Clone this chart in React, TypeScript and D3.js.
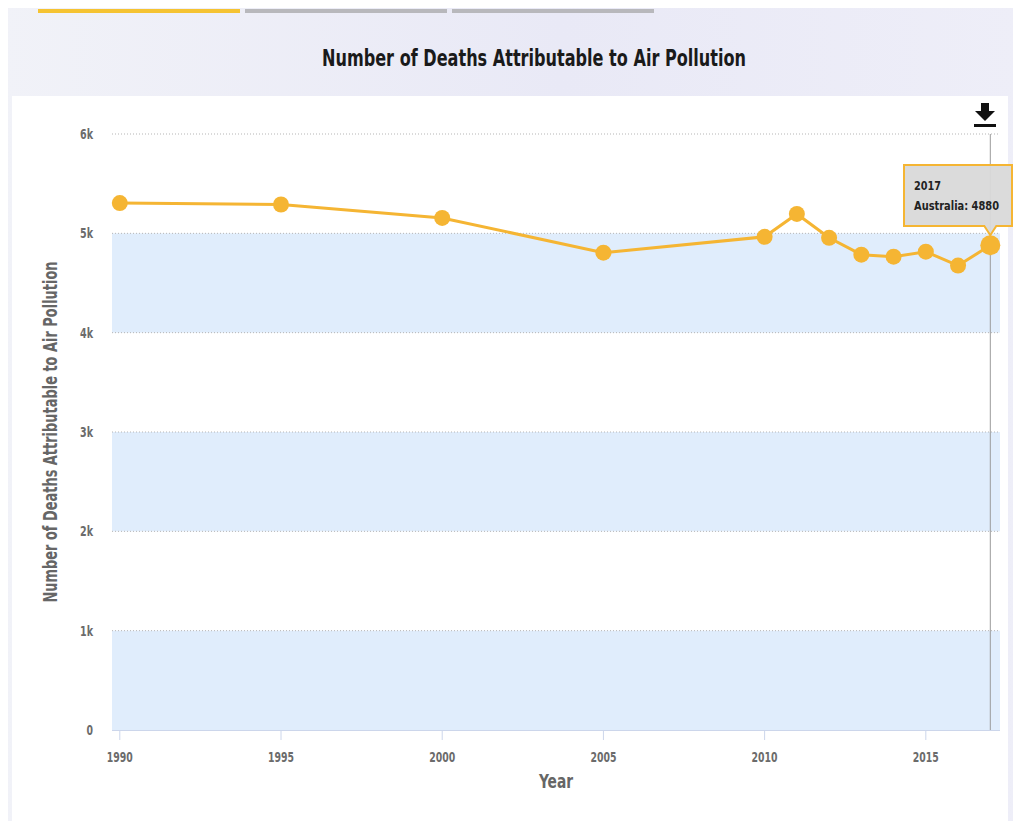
import React, { useEffect, useRef } from "react";
import * as d3 from "d3";

const years = [1990, 1995, 2000, 2005, 2010, 2011, 2012, 2013, 2014, 2015, 2016, 2017];
const deaths = [5305, 5290, 5155, 4805, 4965, 5195, 4955, 4785, 4765, 4815, 4675, 4880];
const yTicks = [0, 1000, 2000, 3000, 4000, 5000, 6000];
const xTicks = [1990, 1995, 2000, 2005, 2010, 2015];
const bands = [[0, 1000], [2000, 3000], [4000, 5000]];
const tabs = ["active", "idle", "idle"];

const FONT = "'DejaVu Sans Condensed', 'DejaVu Sans', sans-serif";
const ORANGE = "#f5b533";

const App: React.FC = () => {
  const svgRef = useRef<SVGSVGElement>(null);

  useEffect(() => {
    if (!svgRef.current) return;
    const width = 1021;
    const height = 829;
    const svg = d3.select(svgRef.current);
    svg.selectAll("*").remove();
    svg.attr("width", width).attr("height", height);

    const label = (sel: d3.Selection<SVGTextElement, unknown, null, undefined>, size: number, fill: string) =>
      sel
        .style("font-family", FONT)
        .style("font-stretch", "condensed")
        .style("font-size", `${size}px`)
        .style("font-weight", "bold")
        .style("fill", fill);

    // background
    const defs = svg.append("defs");
    const grad = defs
      .append("linearGradient")
      .attr("id", "bg")
      .attr("x1", "0")
      .attr("x2", "1")
      .attr("y1", "0")
      .attr("y2", "0");
    grad.append("stop").attr("offset", "0%").attr("stop-color", "#f1f2f8");
    grad.append("stop").attr("offset", "55%").attr("stop-color", "#e9e9f6");
    grad.append("stop").attr("offset", "100%").attr("stop-color", "#eeeef8");
    svg.append("rect").attr("width", width).attr("height", height).attr("fill", "url(#bg)");

    // tabs
    tabs.forEach((t, i) => {
      svg
        .append("rect")
        .attr("x", 38 + i * 207)
        .attr("y", 9)
        .attr("width", 202)
        .attr("height", 4)
        .attr("fill", t === "active" ? "#f5c332" : "#b8b8bc");
    });

    label(
      svg
        .append("text")
        .attr("x", 534)
        .attr("y", 66)
        .attr("text-anchor", "middle")
        .attr("textLength", 424)
        .attr("lengthAdjust", "spacingAndGlyphs"),
      23,
      "#1a1a1a"
    ).text("Number of Deaths Attributable to Air Pollution");

    // white panel
    svg
      .append("rect")
      .attr("x", 12)
      .attr("y", 96)
      .attr("width", 996)
      .attr("height", 730)
      .attr("fill", "#ffffff");

    const x = d3.scaleLinear().domain([1990, 2017]).range([119.8, 990.3]);
    const y = d3.scaleLinear().domain([0, 6000]).range([730, 134]);
    const plotLeft = 112;
    const plotRight = 1000;

    // bands
    bands.forEach(([a, b]) => {
      svg
        .append("rect")
        .attr("x", plotLeft)
        .attr("y", y(b))
        .attr("width", plotRight - plotLeft)
        .attr("height", y(a) - y(b))
        .attr("fill", "#e0edfc");
    });

    // gridlines + y labels
    yTicks.forEach((t) => {
      if (t > 0) {
        svg
          .append("line")
          .attr("x1", plotLeft)
          .attr("x2", plotRight)
          .attr("y1", y(t))
          .attr("y2", y(t))
          .attr("stroke", "#b5b5b5")
          .attr("stroke-width", 1)
          .attr("stroke-dasharray", "1,2");
      }
      const txt = t === 0 ? "0" : `${t / 1000}k`;
      label(
        svg
          .append("text")
          .attr("x", 93)
          .attr("y", y(t) + 5)
          .attr("text-anchor", "end")
          .attr("textLength", txt.length * 6.5)
          .attr("lengthAdjust", "spacingAndGlyphs"),
        14,
        "#6b6b6b"
      ).text(txt);
    });

    // x axis
    svg
      .append("line")
      .attr("x1", plotLeft)
      .attr("x2", plotRight)
      .attr("y1", y(0) + 0.5)
      .attr("y2", y(0) + 0.5)
      .attr("stroke", "#ccd6eb");
    xTicks.forEach((t) => {
      svg
        .append("line")
        .attr("x1", x(t))
        .attr("x2", x(t))
        .attr("y1", y(0))
        .attr("y2", y(0) + 10)
        .attr("stroke", "#ccd6eb");
      label(
        svg
          .append("text")
          .attr("x", x(t))
          .attr("y", 762)
          .attr("text-anchor", "middle")
          .attr("textLength", 26)
          .attr("lengthAdjust", "spacingAndGlyphs"),
        14,
        "#6b6b6b"
      ).text(t);
    });

    // axis titles
    label(
      svg
        .append("text")
        .attr("x", 556)
        .attr("y", 788)
        .attr("text-anchor", "middle")
        .attr("textLength", 34)
        .attr("lengthAdjust", "spacingAndGlyphs"),
      20,
      "#666"
    ).text("Year");

    label(
      svg
        .append("text")
        .attr("transform", "translate(57, 432) rotate(-90)")
        .attr("text-anchor", "middle")
        .attr("textLength", 341)
        .attr("lengthAdjust", "spacingAndGlyphs"),
      19,
      "#666"
    ).text("Number of Deaths Attributable to Air Pollution");

    // crosshair
    const last = years.length - 1;
    svg
      .append("line")
      .attr("x1", x(years[last]))
      .attr("x2", x(years[last]))
      .attr("y1", y(6000))
      .attr("y2", y(0))
      .attr("stroke", "#9a9a9a")
      .attr("stroke-width", 1);

    // line
    const line = d3
      .line<number>()
      .x((_, i) => x(years[i]))
      .y((d) => y(d));
    svg
      .append("path")
      .attr("d", line(deaths) || "")
      .attr("fill", "none")
      .attr("stroke", ORANGE)
      .attr("stroke-width", 3);

    deaths.forEach((d, i) => {
      svg
        .append("circle")
        .attr("cx", x(years[i]))
        .attr("cy", y(d))
        .attr("r", i === last ? 10 : 8)
        .attr("fill", ORANGE);
    });

    // tooltip
    const px = x(years[last]);
    const py = y(deaths[last]);
    const tx = 904;
    const ty = 165;
    const tw = 108;
    const th = 61;
    const tip = svg.append("g");
    tip
      .append("path")
      .attr(
        "d",
        `M${tx},${ty} H${tx + tw} V${ty + th} H${px + 6} L${px},${py - 10} L${px - 6},${ty + th} H${tx} Z`
      )
      .attr("fill", "#d9d9d9")
      .attr("fill-opacity", 0.95)
      .attr("stroke", ORANGE)
      .attr("stroke-width", 2);
    label(
      tip
        .append("text")
        .attr("x", tx + 10)
        .attr("y", ty + 25)
        .attr("textLength", 27)
        .attr("lengthAdjust", "spacingAndGlyphs"),
      13,
      "#222"
    ).text(String(years[last]));
    label(
      tip
        .append("text")
        .attr("x", tx + 10)
        .attr("y", ty + 45)
        .attr("textLength", 85)
        .attr("lengthAdjust", "spacingAndGlyphs"),
      13,
      "#222"
    ).text(`Australia: ${deaths[last]}`);

    // download icon
    const icon = svg.append("g").attr("transform", "translate(985, 103)");
    icon.append("rect").attr("x", -4).attr("y", 0).attr("width", 8).attr("height", 9).attr("fill", "#111");
    icon.append("path").attr("d", "M-10,8 L10,8 L0,18 Z").attr("fill", "#111");
    icon.append("rect").attr("x", -11).attr("y", 21).attr("width", 22).attr("height", 3).attr("fill", "#111");
  }, []);

  return (
    <div style={{ margin: -8 }}>
      <svg ref={svgRef} style={{ display: "block" }}></svg>
    </div>
  );
};

export default App;
